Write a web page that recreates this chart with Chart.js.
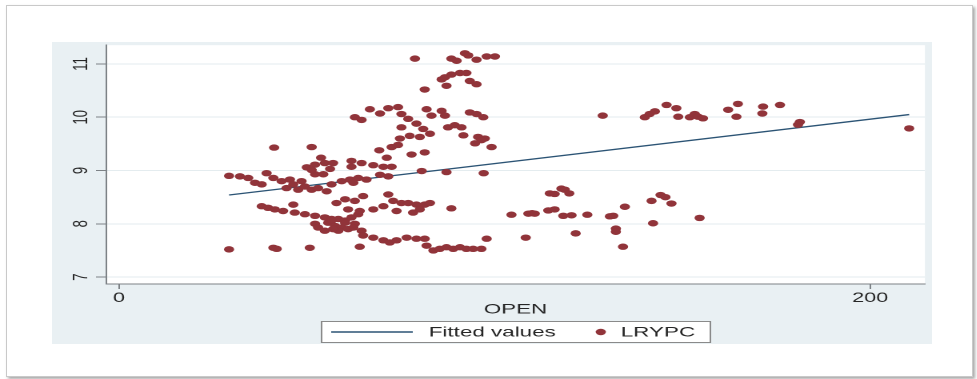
<!DOCTYPE html>
<html>
<head>
<meta charset="utf-8">
<title>LRYPC vs OPEN</title>
<script src="https://cdn.jsdelivr.net/npm/chart.js@4.4.1/dist/chart.umd.min.js"></script>
<style>
  html, body { margin: 0; padding: 0; background: #ffffff; }
  body { width: 977px; height: 379px; position: relative; overflow: hidden; }
  .card {
    position: absolute; left: 6px; top: 5px; width: 965px; height: 370px;
    border: 1px solid #c9c9c9; background: #ffffff;
    box-shadow: 2px 2px 3px rgba(0, 0, 0, 0.35);
  }
  .graph {
    position: absolute; left: 52px; top: 42px; width: 880px; height: 302px;
    background: #e9f0f3; overflow: hidden;
  }
  /* the graph is drawn narrow and widened horizontally */
  .stretch {
    position: absolute; left: 0; top: 0; width: 550px; height: 302px;
    transform: scaleX(1.6); transform-origin: 0 0;
  }
</style>
</head>
<body>
<div class="card"></div>
<div class="graph"><div class="stretch"><canvas id="chart" width="550" height="302"></canvas></div></div>
<script>
// Trade openness (OPEN) and log real GDP per capita (LRYPC), one point per observation
const openValues = [
  29.3, 32.2, 34.4, 36.2, 38.0, 39.3, 41.1, 43.3, 44.6, 45.5, 46.4, 47.7, 48.6, 49.5, 51.3,
  53.0, 55.3, 56.6, 59.3, 61.5, 63.7, 62.4, 65.9, 69.5, 71.7,
  41.3, 51.3, 53.8, 50.0, 52.2, 54.8, 57.0, 52.2, 54.4, 51.3, 56.2, 61.9, 61.9, 64.6,
  67.7, 70.4, 72.6, 80.6, 87.2, 97.1,
  69.3, 72.6, 74.3, 71.3, 77.9, 81.4,
  38.0, 39.7, 41.5, 43.7, 46.4, 46.8, 49.5, 52.2, 54.8, 56.6, 58.4, 60.2, 61.9, 63.7,
  52.2, 53.0, 55.7, 57.5, 59.3, 61.0, 54.8, 58.4, 62.8, 64.6, 56.6, 60.2, 62.4, 57.0,
  57.9, 60.2, 62.8, 65.0, 61.0, 64.1, 67.7, 70.4, 71.7, 73.0, 75.2, 77.0, 79.2, 81.4,
  82.8, 73.9, 78.3, 80.1, 88.5,
  29.3, 41.1, 42.0, 50.8, 64.1, 65.0, 67.7, 70.4, 72.1, 73.9, 76.6, 79.2, 81.4, 81.9,
  83.7, 85.4, 87.2, 89.0, 90.8, 92.5, 94.3, 96.5, 97.9,
  78.8, 88.5, 89.9, 92.1, 93.0, 95.2, 97.9, 100.1,
  85.9, 86.8, 88.5, 90.8, 92.5, 93.4, 95.2, 87.2, 81.4,
  62.8, 64.6, 66.8, 69.5, 71.7, 74.3, 75.2, 77.0, 81.9, 83.2, 85.9, 86.8, 93.4, 95.2, 97.0,
  75.2, 79.2, 81.0, 80.1, 82.8, 87.6, 89.4, 91.2, 91.7, 95.6, 97.4, 74.8, 77.4, 96.5,
  99.2, 94.8,
  104.5, 108.3, 109.0, 110.0, 110.7, 114.7, 116.0, 117.8, 118.7, 119.9, 114.3, 116.0,
  118.3, 120.5, 121.6, 124.7, 130.7, 131.6, 132.3, 132.3, 134.2, 134.7, 141.8, 144.2,
  145.5, 147.1, 142.2, 154.6,
  128.8, 140.0, 141.3, 142.7, 145.8, 148.4, 148.9, 152.0, 153.3, 154.2, 155.5, 162.2,
  164.8, 164.4, 171.5, 171.3, 176.0, 181.3, 180.8, 210.4
];
const lrypcValues = [
  8.90, 8.89, 8.86, 8.77, 8.74, 8.95, 8.86, 8.80, 8.67, 8.83, 8.74, 8.64, 8.80, 8.70, 8.64,
  8.67, 8.61, 8.74, 8.80, 8.83, 8.86, 8.77, 8.83, 8.92, 8.89,
  9.43, 9.44, 9.24, 9.06, 9.11, 9.14, 9.14, 8.93, 8.93, 9.01, 9.03, 9.18, 9.07, 9.14,
  9.10, 9.07, 9.07, 8.99, 8.97, 8.95,
  9.38, 9.44, 9.48, 9.24, 9.30, 9.34,
  8.33, 8.30, 8.27, 8.24, 8.36, 8.21, 8.18, 8.15, 8.12, 8.09, 8.09, 8.06, 8.12, 8.18,
  8.00, 7.93, 8.02, 7.96, 7.93, 7.90, 7.87, 7.87, 8.00, 7.87, 8.06, 8.02, 7.93, 7.90,
  8.39, 8.46, 8.43, 8.52, 8.27, 8.24, 8.27, 8.33, 8.55, 8.43, 8.39, 8.39, 8.36, 8.36,
  8.39, 8.24, 8.21, 8.27, 8.29,
  7.52, 7.55, 7.53, 7.55, 7.57, 7.78, 7.74, 7.69, 7.65, 7.69, 7.74, 7.72, 7.72, 7.59,
  7.50, 7.53, 7.56, 7.53, 7.56, 7.53, 7.53, 7.53, 7.72,
  11.10, 11.10, 11.06, 11.20, 11.16, 11.08, 11.14, 11.14,
  10.71, 10.75, 10.80, 10.83, 10.83, 10.68, 10.62, 10.59, 10.52,
  10.00, 9.95, 10.15, 10.07, 10.17, 10.19, 10.06, 9.97, 10.15, 10.03, 10.12, 10.03, 10.09, 10.06, 10.00,
  9.81, 9.88, 9.78, 9.63, 9.69, 9.81, 9.85, 9.81, 9.66, 9.63, 9.60, 9.60, 9.65, 9.57,
  9.44, 9.51,
  8.17, 7.74, 8.19, 8.20, 8.19, 8.57, 8.56, 8.66, 8.64, 8.57, 8.25, 8.27,
  8.15, 8.16, 7.82, 8.17, 8.14, 8.15, 7.91, 7.85, 7.57, 8.32, 8.43, 8.54,
  8.50, 8.38, 8.01, 8.11,
  10.03, 10.00, 10.06, 10.11, 10.23, 10.17, 10.01, 10.00, 10.06, 10.01, 9.98, 10.14,
  10.25, 10.01, 10.20, 10.07, 10.23, 9.91, 9.86, 9.79
];

// Linear fit, from its two end points
const fitOpen = [29.3, 210.4];
const fitValues = [8.54, 10.05];

const xTickValues = [0, 200];
const yTickValues = [7, 8, 9, 10, 11];
const seriesLabels = ['Fitted values', 'LRYPC'];
const xAxisTitle = 'OPEN';

const FONT = '"Liberation Sans", Arial, Helvetica, sans-serif';
const TEXT = '#262626';
const AXIS = '#7d8286';
const GRID = '#e4ecef';
const DOT = '#91343a';
const LINE = '#2c5475';
const DOT_RADIUS = 3.2;
const Y_LABEL_X = 18.6;

const scatterPoints = openValues.map((x, i) => ({ x, y: lrypcValues[i] }));
const fitPoints = fitOpen.map((x, i) => ({ x, y: fitValues[i] }));

// White plot region behind the grid
const plotFill = {
  id: 'plotFill',
  beforeDraw(chart) {
    const { ctx, chartArea: a } = chart;
    ctx.save();
    ctx.fillStyle = '#ffffff';
    ctx.fillRect(a.left, a.top, a.right - a.left, a.bottom - a.top);
    ctx.restore();
  }
};

// Vertical y tick labels, reading bottom to top
const verticalYLabels = {
  id: 'verticalYLabels',
  afterDraw(chart) {
    const { ctx } = chart;
    const scale = chart.scales.y;
    ctx.save();
    ctx.font = '13px ' + FONT;
    ctx.fillStyle = TEXT;
    ctx.textAlign = 'center';
    ctx.textBaseline = 'middle';
    yTickValues.forEach((v) => {
      const y = scale.getPixelForValue(v);
      ctx.save();
      ctx.translate(Y_LABEL_X, y);
      ctx.rotate(-Math.PI / 2);
      ctx.fillText(String(v), 0, 0);
      ctx.restore();
    });
    ctx.restore();
  }
};

// Boxed legend under the axis title
const boxLegend = {
  id: 'boxLegend',
  afterDraw(chart) {
    const { ctx, chartArea: a } = chart;
    const w = 243, h = 21;
    const left = Math.round((a.left + a.right) / 2 - w / 2) + 0.5;
    const top = chart.height - h - 1.5;
    const midY = top + h / 2;
    ctx.save();
    ctx.fillStyle = '#ffffff';
    ctx.fillRect(left, top, w, h);
    ctx.strokeStyle = '#8a8a8a';
    ctx.lineWidth = 1;
    ctx.strokeRect(left, top, w, h);

    ctx.strokeStyle = LINE;
    ctx.lineWidth = 1.6;
    ctx.beginPath();
    ctx.moveTo(left + 6, midY);
    ctx.lineTo(left + 57, midY);
    ctx.stroke();

    ctx.font = '14px ' + FONT;
    ctx.fillStyle = TEXT;
    ctx.textAlign = 'left';
    ctx.textBaseline = 'middle';
    ctx.fillText(seriesLabels[0], left + 67, midY + 0.5);

    ctx.fillStyle = DOT;
    ctx.beginPath();
    ctx.arc(left + 174.5, midY, DOT_RADIUS, 0, Math.PI * 2);
    ctx.fill();

    ctx.fillStyle = TEXT;
    ctx.fillText(seriesLabels[1], left + 187, midY + 0.5);
    ctx.restore();
  }
};

new Chart(document.getElementById('chart'), {
  type: 'scatter',
  data: {
    datasets: [
      {
        type: 'line',
        label: seriesLabels[0],
        data: fitPoints,
        borderColor: LINE,
        borderWidth: 1.3,
        pointRadius: 0,
        fill: false,
        tension: 0,
        order: 1
      },
      {
        label: seriesLabels[1],
        data: scatterPoints,
        backgroundColor: DOT,
        borderColor: DOT,
        borderWidth: 0,
        pointRadius: DOT_RADIUS,
        pointHoverRadius: DOT_RADIUS,
        order: 0
      }
    ]
  },
  options: {
    responsive: false,
    animation: false,
    devicePixelRatio: 2,
    layout: { padding: { left: 0, right: 4.4, top: 0, bottom: 0 } },
    plugins: { legend: { display: false }, tooltip: { enabled: false } },
    scales: {
      x: {
        type: 'linear',
        position: 'bottom',
        min: -3.47,
        max: 214.6,
        afterBuildTicks: (s) => { s.ticks = xTickValues.map((v) => ({ value: v })); },
        afterFit: (s) => { s.height = 60; },
        grid: { drawOnChartArea: false, drawTicks: true, tickLength: 5, color: AXIS },
        border: { display: true, color: AXIS, width: 1 },
        ticks: { font: { family: FONT, size: 13.5 }, color: TEXT, padding: 1, maxRotation: 0, autoSkip: false },
        title: {
          display: true, text: xAxisTitle, color: TEXT,
          font: { family: FONT, size: 14 }, padding: { top: 0, bottom: 26 }
        }
      },
      y: {
        type: 'linear',
        min: 6.87,
        max: 11.352,
        afterBuildTicks: (s) => { s.ticks = yTickValues.map((v) => ({ value: v })); },
        afterFit: (s) => { s.width = 33.75; },
        grid: { drawOnChartArea: true, color: GRID, tickColor: AXIS, tickLength: 6.25, lineWidth: 1 },
        border: { display: true, color: AXIS, width: 1 },
        ticks: { display: false, autoSkip: false }
      }
    }
  },
  plugins: [plotFill, verticalYLabels, boxLegend]
});
</script>
</body>
</html>
